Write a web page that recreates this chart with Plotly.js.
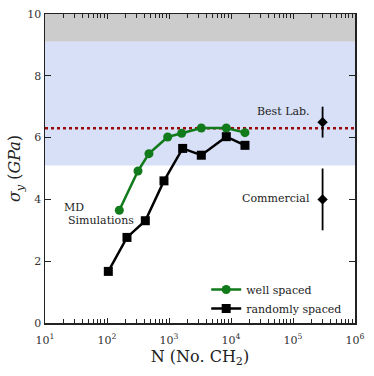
<!DOCTYPE html>
<html>
<head>
<meta charset="utf-8">
<script src="https://cdn.plot.ly/plotly-3.0.1.min.js"></script>
<style>
  html, body { margin: 0; padding: 0; background: #fff; }
  #grafico { width: 374px; height: 376px; }
</style>
</head>
<body>
<div id="grafico"></div>
<script>
// Dados
const nWell = [158, 316, 475, 953, 1600, 3320, 8400, 16800];
const sigmaWell = [3.65, 4.92, 5.48, 6.02, 6.14, 6.31, 6.31, 6.16];

const nRandom = [105, 210, 415, 830, 1660, 3320, 8400, 16800];
const sigmaRandom = [1.67, 2.77, 3.31, 4.60, 5.65, 5.43, 6.03, 5.75];

const nExp = [3e5, 3e5];
const sigmaExp = [6.5, 4.0];
const erroExp = [0.5, 1.0];

const ticksX = [10, 100, 1000, 10000, 100000, 1000000];
const rotulosX = ['10<sup>1</sup>', '10<sup>2</sup>', '10<sup>3</sup>', '10<sup>4</sup>', '10<sup>5</sup>', '10<sup>6</sup>'];

const faixaCinza = [9.1, 10];
const faixaAzul = [5.1, 9.1];
const linhaRef = 6.3;

// ticks menores do eixo log (2..9 x 10^n)
const ticksMenores = [];
ticksX.slice(0, -1).forEach(d => {
    for (let k = 2; k <= 9; k++) ticksMenores.push(k * d);
});

const fonteSerif = 'DejaVu Serif';

const data = [
    {
        x: nWell,
        y: sigmaWell,
        name: 'well spaced',
        type: 'scatter',
        mode: 'lines+markers',
        line: { color: '#117a1b', width: 2.5 },
        marker: { color: '#117a1b', size: 9, symbol: 'circle' }
    },
    {
        x: nRandom,
        y: sigmaRandom,
        name: 'randomly spaced',
        type: 'scatter',
        mode: 'lines+markers',
        line: { color: '#000000', width: 2.5 },
        marker: { color: '#000000', size: 9, symbol: 'square' }
    },
    {
        x: nExp,
        y: sigmaExp,
        type: 'scatter',
        mode: 'markers',
        showlegend: false,
        marker: { color: '#000000', size: 8, symbol: 'diamond' },
        error_y: { type: 'data', array: erroExp, visible: true, color: '#000000', thickness: 1.8, width: 0 }
    }
];

const layout = {
    width: 374,
    height: 376,
    paper_bgcolor: '#ffffff',
    plot_bgcolor: 'rgba(0,0,0,0)',
    font: { family: fonteSerif, color: '#222222', size: 11 },
    margin: { l: 45, r: 19, t: 14, b: 53 },
    showlegend: true,
    legend: {
        x: 0.52,
        y: 0.0,
        xanchor: 'left',
        yanchor: 'bottom',
        bgcolor: 'rgba(0,0,0,0)',
        font: { family: fonteSerif, size: 11, color: '#222222' },
        tracegroupgap: 0
    },
    xaxis: {
        type: 'log',
        range: [1, 6],
        tickvals: ticksX,
        ticktext: rotulosX,
        showgrid: false,
        zeroline: false,
        showline: true,
        linecolor: '#222222',
        linewidth: 1.5,
        mirror: 'allticks',
        ticks: 'inside',
        ticklen: 5,
        tickcolor: '#222222',
        ticklabelstandoff: 6,
        tickfont: { family: fonteSerif, size: 11, color: '#333333' },
        minor: { tickmode: 'array', tickvals: ticksMenores, ticks: 'inside', ticklen: 4, tickcolor: '#222222', showgrid: false },
        title: { text: 'N (No. CH<sub>2</sub>)', font: { family: fonteSerif, size: 16, color: '#222222' }, standoff: 4 }
    },
    yaxis: {
        range: [0, 10],
        dtick: 2,
        showgrid: false,
        zeroline: false,
        showline: true,
        linecolor: '#222222',
        linewidth: 1.5,
        mirror: 'allticks',
        ticks: 'inside',
        ticklen: 6,
        tickcolor: '#222222',
        tickfont: { family: fonteSerif, size: 11, color: '#333333' },
        title: { text: '<i>σ<sub>y</sub></i> (<i>GPa</i>)', font: { family: fonteSerif, size: 16, color: '#222222' }, standoff: 2 }
    },
    shapes: [
        {
            type: 'rect', xref: 'paper', yref: 'y', layer: 'below',
            x0: 0, x1: 1, y0: faixaCinza[0], y1: faixaCinza[1],
            fillcolor: '#cccccc', line: { width: 0 }
        },
        {
            type: 'rect', xref: 'paper', yref: 'y', layer: 'below',
            x0: 0, x1: 1, y0: faixaAzul[0], y1: faixaAzul[1],
            fillcolor: '#d8e0f7', line: { width: 0 }
        },
        {
            type: 'line', xref: 'paper', yref: 'y', layer: 'below',
            x0: 0, x1: 1, y0: linhaRef, y1: linhaRef,
            line: { color: '#9b0a0a', width: 2.5, dash: '3px,3px' }
        }
    ],
    annotations: [
        {
            text: 'MD', x: Math.log10(18.5), y: 3.73, xref: 'x', yref: 'y',
            xanchor: 'left', showarrow: false,
            font: { family: fonteSerif, size: 11, color: '#222222' }
        },
        {
            text: 'Simulations', x: Math.log10(21.5), y: 3.31, xref: 'x', yref: 'y',
            xanchor: 'left', showarrow: false,
            font: { family: fonteSerif, size: 11, color: '#222222' }
        },
        {
            text: 'Best Lab.', x: Math.log10(2.05e5), y: 6.86, xref: 'x', yref: 'y',
            xanchor: 'right', showarrow: false,
            font: { family: fonteSerif, size: 11, color: '#222222' }
        },
        {
            text: 'Commercial', x: Math.log10(2.0e5), y: 4.02, xref: 'x', yref: 'y',
            xanchor: 'right', showarrow: false,
            font: { family: fonteSerif, size: 11, color: '#222222' }
        }
    ]
};

Plotly.newPlot('grafico', data, layout, { displayModeBar: false, staticPlot: true });
</script>
</body>
</html>
